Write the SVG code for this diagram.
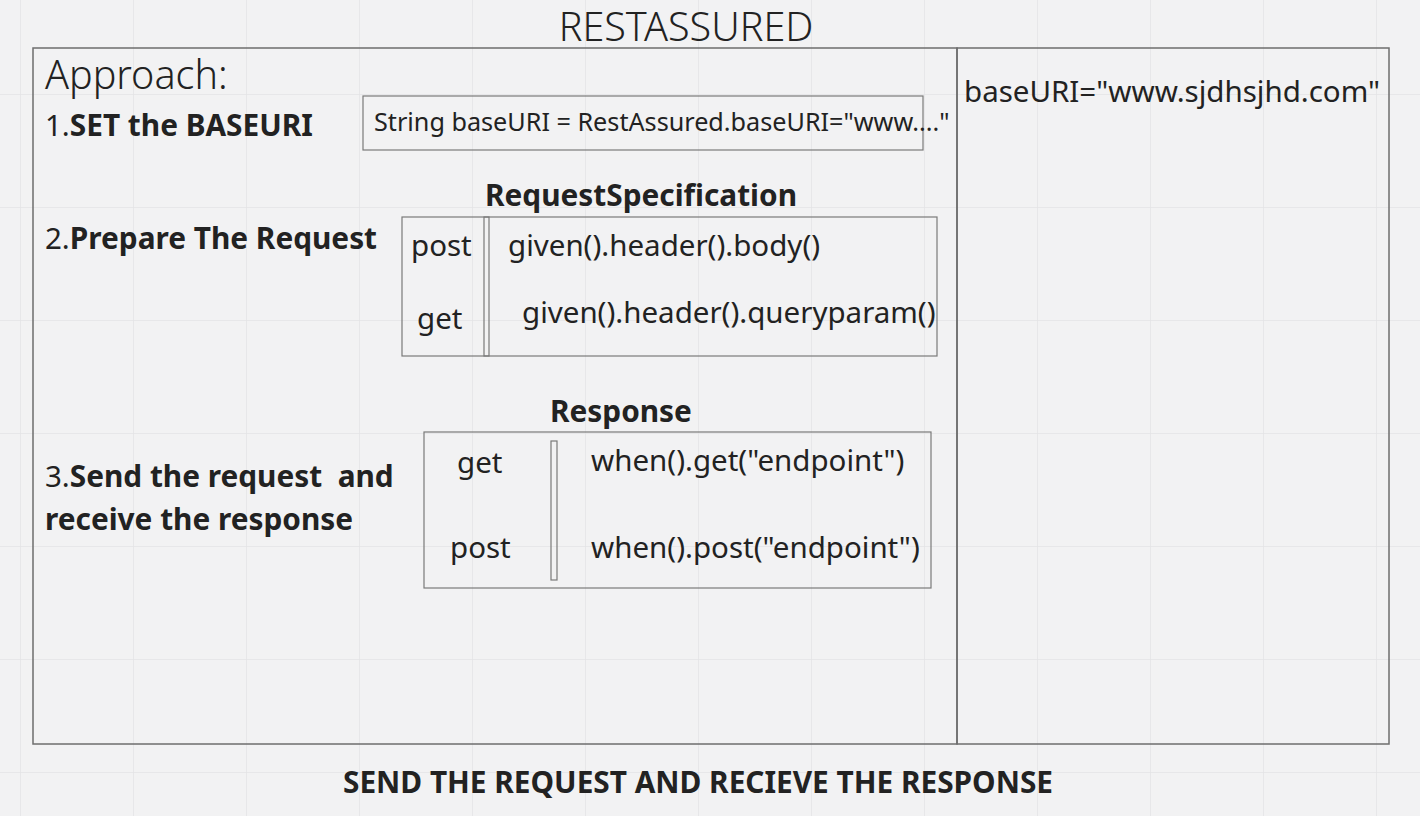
<svg xmlns="http://www.w3.org/2000/svg" width="1420" height="816" viewBox="0 0 1420 816">
<defs>
<pattern id="grid" x="20" y="-19" width="113" height="113" patternUnits="userSpaceOnUse">
<path d="M0 0V113M0 0H113" fill="none" stroke="#e4e4e6" stroke-width="1.5"/>
</pattern>
</defs>
<style>
text{font-family:"Noto Sans","Open Sans","Liberation Sans",sans-serif;fill:#222;white-space:pre;}
.light{font-weight:300;}
.t{font-size:29.5px;}
.b{font-weight:700;font-size:29.8px;}
.box{fill:none;stroke:#7a7a7a;stroke-width:1.2;}
.frame{fill:none;stroke:#6e6e6e;stroke-width:1.5;}
</style>
<rect width="1420" height="816" fill="#f2f2f3"/>
<rect width="1420" height="816" fill="url(#grid)"/>

<g id="title"><text x="686" y="41" text-anchor="middle" class="light" font-size="39.5">RESTASSURED</text></g>

<g id="approach-frame">
<rect class="frame" x="33" y="48" width="924" height="696"/>
<text x="45" y="89" class="light" font-size="39.5">Approach:</text>
</g>

<g id="baseuri-frame">
<rect class="frame" x="957" y="48" width="432" height="696"/>
<text x="964" y="102" class="t">baseURI="www.sjdhsjhd.com"</text>
</g>

<g id="step1">
<text x="45" y="136" class="t">1.<tspan class="b">SET the BASEURI</tspan></text>
</g>

<g id="baseuri-box">
<rect class="box" x="363" y="96" width="560" height="54"/>
<text x="374" y="131" font-size="25.2">String baseURI = RestAssured.baseURI="www...."</text>
</g>

<g id="step2">
<text x="45" y="249" class="t">2.<tspan class="b">Prepare The Request</tspan></text>
</g>

<g id="request-spec">
<text x="485" y="206" class="b">RequestSpecification</text>
<rect class="box" x="402" y="217" width="535" height="139"/>
<rect class="box" x="484" y="217" width="5" height="139"/>
<text x="411" y="256" class="t">post</text>
<text x="417" y="329" class="t">get</text>
<text x="508" y="256" class="t">given().header().body()</text>
<text x="522" y="323" class="t">given().header().queryparam()</text>
</g>

<g id="step3">
<text x="45" y="487" class="t">3.<tspan class="b">Send the request  and</tspan></text>
<text x="45" y="530" class="b">receive the response</text>
</g>

<g id="response">
<text x="550" y="422" class="b">Response</text>
<rect class="box" x="424" y="432" width="507" height="156"/>
<rect class="box" x="551" y="441" width="6" height="139"/>
<text x="457" y="473" class="t">get</text>
<text x="450" y="558" class="t">post</text>
<text x="591" y="471" class="t">when().get("endpoint")</text>
<text x="591" y="558" class="t">when().post("endpoint")</text>
</g>

<g id="footer"><text x="698" y="793" text-anchor="middle" class="b">SEND THE REQUEST AND RECIEVE THE RESPONSE</text></g>

<g id="connectors"></g>
</svg>
